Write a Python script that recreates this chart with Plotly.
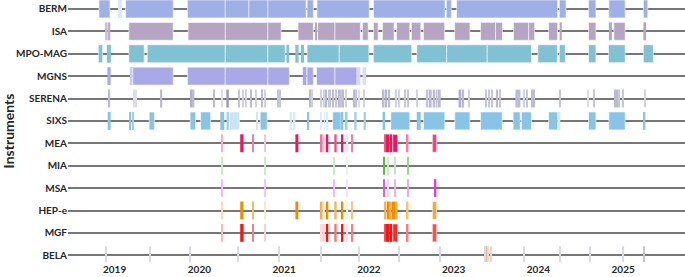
import plotly.graph_objects as go

# ---------------- data (decimal years) ----------------
INSTRUMENTS = ["BERM", "ISA", "MPO-MAG", "MGNS", "SERENA", "SIXS",
               "MEA", "MIA", "MSA", "HEP-e", "MGF", "BELA"]
YEAR_TICKS = [2019, 2020, 2021, 2022, 2023, 2024, 2025]
YEAR_LABELS = ["2019", "2020", "2021", "2022", "2023", "2024", "2025"]

# (start, end, intensity)
BERM = [
    (2018.815, 2018.945, 1), (2019.040, 2019.052, 0.3), (2019.070, 2019.080, 0.3),
    (2019.129, 2019.691, 1), (2019.859, 2020.306, 1), (2020.306, 2020.585, 1),
    (2020.585, 2020.808, 1), (2020.808, 2021.259, 1), (2021.271, 2021.345, 1),
    (2021.388, 2022.004, 1), (2022.055, 2022.898, 1), (2022.914, 2022.973, 1),
    (2023.035, 2024.227, 1), (2024.247, 2024.326, 1), (2024.592, 2024.679, 1),
    (2024.832, 2025.024, 1), (2025.239, 2025.291, 1),
]
ISA = [
    (2018.898, 2018.918, 0.7), (2018.929, 2018.949, 0.9), (2019.168, 2019.691, 1),
    (2019.867, 2020.306, 1), (2020.306, 2020.808, 1), (2020.808, 2020.965, 1),
    (2021.165, 2021.345, 1), (2021.368, 2021.385, 1), (2021.396, 2021.600, 1),
    (2021.600, 2021.900, 1), (2021.924, 2021.992, 1), (2022.055, 2022.109, 1),
    (2022.161, 2022.298, 1), (2022.326, 2022.482, 1), (2022.502, 2022.612, 1),
    (2022.644, 2022.894, 1), (2023.012, 2023.192, 1), (2023.318, 2023.494, 1),
    (2023.494, 2023.576, 1), (2023.706, 2023.886, 1), (2023.886, 2023.956, 1),
    (2024.121, 2024.227, 1), (2024.251, 2024.276, 1), (2024.592, 2024.679, 1),
    (2024.832, 2024.867, 1), (2024.891, 2025.024, 1), (2025.239, 2025.271, 1),
]
MPO_MAG = [
    (2018.808, 2018.859, 1), (2018.908, 2018.956, 1), (2019.168, 2019.349, 1),
    (2019.385, 2020.306, 1), (2020.306, 2020.808, 1), (2020.808, 2021.012, 1),
    (2021.027, 2021.059, 1), (2021.132, 2021.171, 1), (2021.198, 2021.235, 1),
    (2021.271, 2021.650, 1), (2021.650, 2022.000, 1), (2022.053, 2022.506, 1),
    (2022.565, 2022.918, 1), (2022.918, 2023.396, 1), (2023.396, 2023.918, 1),
    (2023.994, 2024.224, 1), (2024.247, 2024.318, 1), (2024.592, 2024.679, 1),
    (2024.827, 2025.024, 1), (2025.239, 2025.356, 1),
]
MGNS = [
    (2018.915, 2018.953, 1), (2019.180, 2019.215, 0.6), (2019.215, 2019.691, 1),
    (2019.859, 2020.306, 1), (2020.306, 2020.808, 1), (2020.808, 2021.062, 1),
    (2021.220, 2021.265, 1), (2021.271, 2021.345, 1), (2021.382, 2021.600, 1),
    (2021.600, 2021.859, 1), (2021.859, 2021.900, 0.45), (2021.926, 2021.968, 0.4),
]
SERENA = [
    (2018.929, 2018.947, 0.6), (2019.224, 2019.235, 0.3), (2019.251, 2019.262, 0.3),
    (2019.547, 2019.562, 0.6), (2019.894, 2019.912, 0.7), (2019.924, 2019.941, 0.6),
    (2020.161, 2020.174, 0.6), (2020.259, 2020.271, 0.3), (2020.318, 2020.347, 0.9),
    (2020.459, 2020.474, 0.5), (2020.506, 2020.521, 0.4), (2020.547, 2020.559, 0.4),
    (2020.606, 2020.620, 0.6), (2020.665, 2020.676, 0.4), (2020.729, 2020.745, 0.6),
    (2020.771, 2020.782, 0.4), (2020.924, 2020.938, 0.5), (2020.944, 2020.959, 0.5),
    (2021.304, 2021.318, 0.6), (2021.321, 2021.333, 0.4), (2021.429, 2021.441, 0.4),
    (2021.459, 2021.471, 0.4), (2021.488, 2021.506, 0.6), (2021.518, 2021.529, 0.5),
    (2021.539, 2021.553, 0.5), (2021.576, 2021.588, 0.6), (2021.606, 2021.618, 0.5),
    (2021.638, 2021.649, 0.6), (2021.665, 2021.676, 0.5), (2021.692, 2021.704, 0.6),
    (2021.724, 2021.735, 0.4), (2021.824, 2021.835, 0.6), (2021.847, 2021.859, 0.5),
    (2021.882, 2021.894, 0.3), (2021.941, 2021.953, 0.4), (2022.159, 2022.182, 0.6),
    (2022.188, 2022.212, 0.7), (2022.224, 2022.251, 0.6), (2022.312, 2022.324, 0.4),
    (2022.353, 2022.365, 0.4), (2022.424, 2022.435, 0.5), (2022.451, 2022.462, 0.5),
    (2022.565, 2022.576, 0.4), (2022.671, 2022.700, 0.5), (2022.706, 2022.741, 0.6),
    (2022.753, 2022.782, 0.6), (2022.788, 2022.812, 0.5), (2022.824, 2022.847, 0.6),
    (2023.059, 2023.088, 0.7), (2023.094, 2023.124, 0.6), (2023.171, 2023.188, 0.4),
    (2023.371, 2023.388, 0.5), (2023.412, 2023.424, 0.5), (2023.451, 2023.465, 0.5),
    (2023.509, 2023.524, 0.6), (2023.541, 2023.553, 0.5), (2023.729, 2023.759, 0.6),
    (2023.765, 2023.788, 0.6), (2023.824, 2023.835, 0.4), (2023.862, 2023.874, 0.5),
    (2023.921, 2023.935, 0.6), (2023.941, 2023.959, 0.6), (2024.253, 2024.265, 0.5),
    (2024.582, 2024.594, 0.3), (2024.653, 2024.665, 0.5), (2024.900, 2024.915, 0.6),
    (2024.924, 2024.935, 0.6), (2024.947, 2024.962, 0.5), (2024.992, 2025.004, 0.5),
    (2025.247, 2025.259, 0.4),
]
SIXS = [
    (2018.918, 2018.953, 1), (2019.171, 2019.188, 1), (2019.208, 2019.227, 0.8),
    (2019.408, 2019.471, 1), (2019.891, 2019.956, 1), (2020.015, 2020.133, 1),
    (2020.247, 2020.294, 1), (2020.321, 2020.353, 0.8), (2020.353, 2020.474, 0.45),
    (2020.671, 2020.691, 0.4), (2020.718, 2020.800, 1), (2021.065, 2021.091, 0.35),
    (2021.112, 2021.132, 0.35), (2021.271, 2021.291, 1), (2021.435, 2021.447, 0.3),
    (2021.471, 2021.482, 0.3), (2021.500, 2021.514, 0.3), (2021.573, 2021.671, 1),
    (2021.680, 2021.698, 1), (2021.729, 2021.749, 0.8), (2021.827, 2021.855, 0.8),
    (2021.938, 2021.965, 0.8), (2022.161, 2022.192, 1), (2022.259, 2022.482, 1),
    (2022.565, 2022.612, 1), (2022.644, 2022.896, 1), (2023.014, 2023.192, 1),
    (2023.318, 2023.573, 1), (2023.702, 2023.785, 1), (2023.800, 2023.918, 1),
    (2024.121, 2024.227, 1), (2024.239, 2024.259, 0.35), (2024.592, 2024.679, 1),
    (2024.832, 2025.024, 1), (2025.239, 2025.262, 1),
]
MEA = [
    (2020.262, 2020.274, 0.35), (2020.482, 2020.521, 1), (2020.624, 2020.644, 0.55),
    (2020.771, 2020.785, 0.25), (2021.133, 2021.168, 1), (2021.435, 2021.455, 0.6),
    (2021.455, 2021.494, 0.15), (2021.494, 2021.521, 1), (2021.592, 2021.620, 0.75),
    (2021.671, 2021.698, 1), (2021.738, 2021.756, 0.15), (2021.800, 2021.815, 0.55),
    (2022.180, 2022.200, 0.7), (2022.200, 2022.241, 1), (2022.247, 2022.276, 1),
    (2022.282, 2022.338, 1), (2022.447, 2022.467, 0.55), (2022.749, 2022.800, 0.8),
]
MIA = [
    (2020.262, 2020.274, 0.3), (2020.771, 2020.785, 0.3), (2021.588, 2021.600, 0.3),
    (2021.738, 2021.749, 0.15), (2022.176, 2022.188, 1), (2022.215, 2022.227, 0.3),
    (2022.302, 2022.314, 0.35), (2022.451, 2022.462, 0.6),
]
MSA = [
    (2020.262, 2020.274, 0.35), (2020.771, 2020.785, 0.3), (2021.588, 2021.600, 0.35),
    (2021.738, 2021.749, 0.15), (2022.176, 2022.188, 0.85), (2022.215, 2022.227, 0.25),
    (2022.302, 2022.314, 0.4), (2022.451, 2022.462, 0.45), (2022.768, 2022.796, 1),
]
HEP_E = [
    (2020.262, 2020.274, 0.3), (2020.482, 2020.521, 1), (2020.624, 2020.644, 0.6),
    (2020.771, 2020.785, 0.2), (2021.133, 2021.168, 1), (2021.435, 2021.455, 0.7),
    (2021.455, 2021.480, 0.15), (2021.494, 2021.521, 1), (2021.592, 2021.620, 0.65),
    (2021.671, 2021.698, 1), (2021.738, 2021.756, 0.15), (2021.800, 2021.815, 0.5),
    (2022.180, 2022.206, 0.7), (2022.212, 2022.241, 1), (2022.247, 2022.265, 0.7),
    (2022.271, 2022.312, 1), (2022.318, 2022.338, 0.7), (2022.447, 2022.467, 0.55),
    (2022.749, 2022.800, 0.75),
]
MGF = [
    (2020.262, 2020.274, 0.3), (2020.482, 2020.521, 1), (2020.624, 2020.644, 0.55),
    (2020.771, 2020.785, 0.2), (2021.435, 2021.455, 0.15), (2021.455, 2021.480, 0.2),
    (2021.494, 2021.521, 1), (2021.592, 2021.620, 0.6), (2021.671, 2021.698, 1),
    (2021.738, 2021.756, 0.15), (2021.800, 2021.815, 0.55), (2022.180, 2022.200, 0.75),
    (2022.200, 2022.241, 1), (2022.247, 2022.276, 1), (2022.282, 2022.338, 0.9),
    (2022.447, 2022.467, 0.55), (2022.749, 2022.800, 0.75),
]
BELA = [
    (2018.891, 2018.905, 0.5), (2019.408, 2019.422, 0.5), (2019.879, 2019.893, 0.5),
    (2020.455, 2020.469, 0.5), (2020.938, 2020.952, 0.5), (2021.428, 2021.442, 0.5),
    (2021.872, 2021.886, 0.5), (2022.349, 2022.363, 0.5), (2022.832, 2022.846, 0.5),
    (2023.364, 2023.378, 0.5), (2023.440, 2023.454, 0.5), (2023.820, 2023.834, 0.5),
    (2024.252, 2024.266, 0.5), (2024.605, 2024.619, 0.5), (2024.997, 2025.011, 0.5),
    (2025.240, 2025.254, 0.8),
]
BELA_ALT = [(2023.382, 2023.394, 0.7), (2023.398, 2023.410, 0.35)]

SERIES = [BERM, ISA, MPO_MAG, MGNS, SERENA, SIXS, MEA, MIA, MSA, HEP_E, MGF, BELA]

# ---------------- style ----------------
BASE_COLORS = ["#9fb0e6", "#b5a5c3", "#80c2d3", "#a8a9e6", "#8e8eb6", "#88c4e6",
               "#f0145a", "#5cbc3c", "#dc3cf0", "#f08c00", "#ff1010", "#b4b4d0"]
ALT_COLOR = "#e8945a"


def mix(hexcol, level):
    r, g, b = (int(hexcol[i:i + 2], 16) for i in (1, 3, 5))
    f = lambda c: round(255 + (c - 255) * level)
    return f"rgb({f(r)},{f(g)},{f(b)})"


fig = go.Figure()


def add_series(segs, row, base):
    fig.add_trace(go.Bar(
        orientation="h",
        y=[row] * len(segs),
        base=[s[0] for s in segs],
        x=[s[1] - s[0] for s in segs],
        width=0.8,
        marker=dict(color=[mix(base, s[2]) for s in segs],
                    line=dict(width=[1 if (s[1] - s[0]) > 0.05 else 0 for s in segs],
                              color="rgba(255,255,255,0.55)")),
        showlegend=False,
        hoverinfo="skip",
    ))


for i, segs in enumerate(SERIES):
    add_series(segs, i, BASE_COLORS[i])
add_series(BELA_ALT, INSTRUMENTS.index("BELA"), ALT_COLOR)

FONT = "Lato"
fig.update_layout(
    width=685, height=277,
    margin=dict(l=66, r=0, t=0, b=15),
    paper_bgcolor="white", plot_bgcolor="white",
    barmode="overlay",
    font=dict(family=FONT, color="#262626"),
    xaxis=dict(range=[2018.45, 2025.73], tickvals=YEAR_TICKS, ticktext=YEAR_LABELS,
               showgrid=False, zeroline=False, showline=False, ticks="",
               tickfont=dict(size=10, weight=700, family=FONT, color="#262626")),
    yaxis=dict(range=[11.3, -0.4], tickvals=list(range(len(INSTRUMENTS))),
               ticktext=INSTRUMENTS, showgrid=True, gridcolor="#777777", gridwidth=2,
               zeroline=False, showline=False, ticks="",
               tickfont=dict(size=10, weight=700, family=FONT, color="#262626"),
               title=dict(text="Instruments", standoff=6,
                          font=dict(size=14, weight=700, family=FONT, color="#262626"))),
)

fig.write_html("out.html", config={"displayModeBar": False},
               post_script="document.body.style.margin='0';document.body.style.overflow='hidden';")
